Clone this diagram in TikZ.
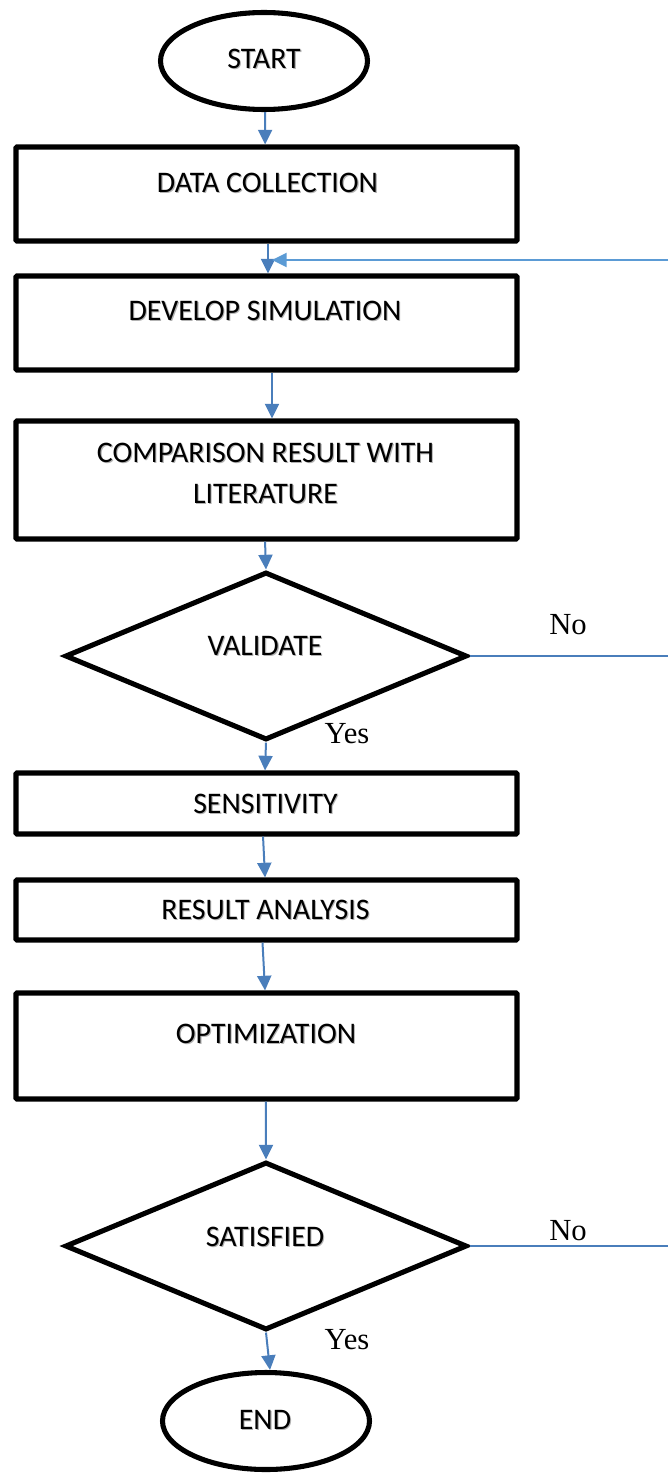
\documentclass[tikz,border=0pt]{standalone}
\usepackage{fontspec}
\setmainfont{Carlito}
\newfontfamily\serifno{Liberation Serif}
\usetikzlibrary{shapes.geometric,arrows.meta}
\definecolor{arrowblue}{HTML}{4A7EBB}
\definecolor{lightblue}{HTML}{5B9BD5}
\newcommand\shd[1]{\rlap{\kern0.8pt\raisebox{-0.8pt}{\color{black!30}#1}}#1}
\begin{document}
\begin{tikzpicture}[x=0.75pt,y=-0.75pt,
  stepbox/.style={draw=black,line width=3.8pt,rectangle,rounded corners=0.8pt,minimum width=375.75pt,inner sep=0pt},
  terminal/.style={draw=black,line width=3.8pt,ellipse,minimum width=155.25pt,minimum height=72.75pt,inner sep=0pt},
  decision/.style={draw=black,line width=3.8pt,diamond,minimum width=301.5pt,minimum height=126pt,inner sep=0pt},
  txt/.style={font=\fontsize{22.4}{30.75}\selectfont,align=center,inner sep=0pt},
  lbl/.style={font=\serifno\fontsize{23}{27}\selectfont,inner sep=0pt},
  arr/.style={draw=arrowblue,line width=1.5pt,-{Triangle[width=10.5pt,length=11pt]}},
  fbarr/.style={draw=lightblue,line width=1.5pt,-{Triangle[width=10.5pt,length=11pt]}},
  noline/.style={draw=arrowblue,line width=1.5pt}]
\useasboundingbox (0,0) rectangle (668,1473);
\fill[white] (0,0) rectangle (668,1473);

% shapes
\node[terminal] (start) at (264,61) {};
\node[stepbox,minimum height=70.5pt] (dc) at (266.5,194) {};
\node[stepbox,minimum height=70.5pt] (ds) at (266.5,323) {};
\node[stepbox,minimum height=88.5pt] (cr) at (266.5,480) {};
\node[decision] (val) at (266,656) {};
\node[stepbox,minimum height=45.75pt] (sens) at (266.5,803.5) {};
\node[stepbox,minimum height=45pt] (ra) at (266.5,910) {};
\node[stepbox,minimum height=79.5pt] (opt) at (266.5,1046) {};
\node[decision] (sat) at (266,1246) {};
\node[terminal] (end) at (266,1421) {};

% texts
\node[txt] (tstart) at (264,59) {\shd{START}};
\node[txt] (tdc) at (267.5,183) {\shd{DATA COLLECTION}};
\node[txt] (tds) at (265,311) {\shd{DEVELOP SIMULATION}};
\node[txt] (tcr) at (265.5,474) {\shd{COMPARISON RESULT WITH}\\\shd{LITERATURE}};
\node[txt] (tval) at (265,646) {\shd{VALIDATE}};
\node[txt] (tsens) at (265.5,804) {\shd{SENSITIVITY}};
\node[txt] (tra) at (265.5,910) {\shd{RESULT ANALYSIS}};
\node[txt] (topt) at (266,1034) {\shd{OPTIMIZATION}};
\node[txt] (tsat) at (265,1237) {\shd{SATISFIED}};
\node[txt] (tend) at (265,1420) {\shd{END}};

% labels
\node[lbl] (no1) at (568,625) {No};
\node[lbl] (yes1) at (347,734) {Yes};
\node[lbl] (no2) at (568,1231) {No};
\node[lbl] (yes2) at (347,1340) {Yes};

% connectors
\draw[arr] ([xshift=0.75pt]start.south) -- ([xshift=-1pt]dc.north);
\draw[arr] ([xshift=1.1pt]dc.south) -- ([xshift=1.1pt]ds.north);
\draw[arr] ([xshift=4.1pt]ds.south) -- ([xshift=4.1pt]cr.north);
\draw[arr] ([xshift=-1.1pt]cr.south) -- (val.north);
\draw[arr] (val.south) -- ([xshift=-1.1pt]sens.north);
\draw[arr] ([xshift=-2.6pt]sens.south) -- ([xshift=-1.1pt]ra.north);
\draw[arr] ([xshift=-3pt]ra.south) -- ([xshift=-1.1pt]opt.north);
\draw[arr] ([xshift=-0.4pt]opt.south) -- (sat.north);
\draw[arr] (sat.south) -- ([xshift=3pt]end.north);

\coordinate (fbR) at (668,260);
\coordinate (fbL) at (272,260);
\draw[fbarr] (fbR) -- (fbL);

\coordinate (valR) at (668,656);
\coordinate (satR) at (668,1246);
\draw[noline] (val.east) -- (valR);
\draw[noline] (sat.east) -- (satR);
\end{tikzpicture}
\end{document}
